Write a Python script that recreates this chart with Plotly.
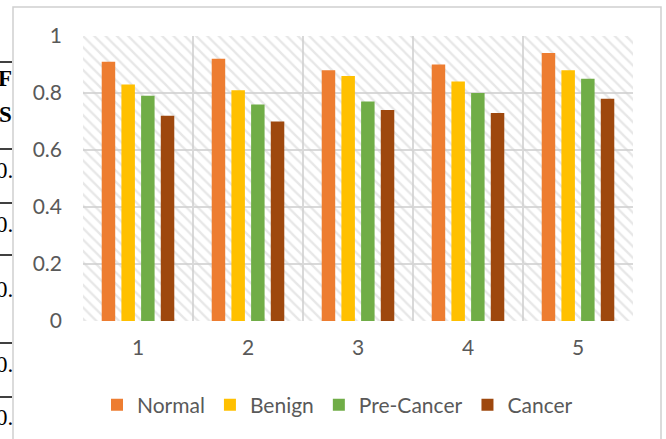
import plotly.graph_objects as go

categories = ["1", "2", "3", "4", "5"]
normal = [0.91, 0.92, 0.88, 0.90, 0.94]
benign = [0.83, 0.81, 0.86, 0.84, 0.88]
pre_cancer = [0.79, 0.76, 0.77, 0.80, 0.85]
cancer = [0.72, 0.70, 0.74, 0.73, 0.78]
series_names = ["Normal", "Benign", "Pre-Cancer", "Cancer"]
series_colors = ["#ED7D31", "#FFC000", "#70AD47", "#9E480E"]
y_ticks = [0, 0.2, 0.4, 0.6, 0.8, 1]
y_ticklabels = ["0", "0.2", "0.4", "0.6", "0.8", "1"]

# background table remnants on the left (text of the page behind the chart)
side_texts = ["F", "S", "0.", "0.", "0.", "0.", "0."]
side_bold = [True, True, False, False, False, False, False]
side_text_y = [78, 115, 170, 224, 289, 364, 417]
side_line_y = [62, 149, 203, 255, 343, 397]

W, H = 666, 439
L, R, T, B = 83, 633, 36, 321


def px(x):
    return (x - L) / (R - L)


def py(y):
    return (B - y) / (B - T)


fig = go.Figure()

# hatched plot-area background on the base axes
fig.add_trace(go.Scatter(
    x=[0, 1, 1, 0, 0], y=[0, 0, 1, 1, 0], mode="lines",
    line=dict(width=0, color="rgba(0,0,0,0)"),
    fill="toself", fillcolor="rgba(0,0,0,0)",
    fillpattern=dict(shape="\\", fgcolor="#d0d0d0", bgcolor="rgba(0,0,0,0)",
                     size=8, solidity=0.3),
    showlegend=False, hoverinfo="skip", xaxis="x", yaxis="y",
))

for name, vals, col in zip(series_names, [normal, benign, pre_cancer, cancer], series_colors):
    fig.add_trace(go.Bar(x=categories, y=vals, name=name, marker=dict(color=col, line=dict(width=0)),
                         xaxis="x2", yaxis="y2"))

font_main = "Lato, 'Open Sans', sans-serif"

fig.update_layout(
    width=W, height=H,
    margin=dict(l=L, r=W - R, t=T, b=H - B, autoexpand=False),
    paper_bgcolor="white", plot_bgcolor="white",
    barmode="group", bargap=0.284, bargroupgap=0.315,
    xaxis=dict(visible=False, range=[0, 1], fixedrange=True),
    yaxis=dict(visible=False, range=[0, 1], fixedrange=True),
    xaxis2=dict(overlaying="x", type="category", tickson="boundaries", showgrid=True,
                gridcolor="#d9d9d9", gridwidth=2, showline=False, zeroline=False,
                ticks="", tickfont=dict(family=font_main, size=21, color="#595959"),
                ticklabelstandoff=12),
    yaxis2=dict(overlaying="y", range=[0, 1], tickvals=y_ticks, ticktext=y_ticklabels,
                showgrid=True, gridcolor="#d9d9d9", gridwidth=2, zeroline=False,
                showline=False, ticks="",
                tickfont=dict(family=font_main, size=21, color="#595959"),
                ticklabelstandoff=20),
    legend=dict(orientation="h", x=px(97), xanchor="left", y=py(405), yanchor="middle",
                font=dict(family=font_main, size=21, color="#595959"),
                bgcolor="rgba(0,0,0,0)", traceorder="normal"),
    showlegend=True,
)

shapes = []
# chart frame
shapes.append(dict(type="rect", xref="paper", yref="paper", x0=px(13), x1=px(661),
                   y0=py(460), y1=py(7), line=dict(color="#d0d0d0", width=1.5),
                   fillcolor="rgba(0,0,0,0)", layer="above"))
# table rule lines
for yy in side_line_y:
    shapes.append(dict(type="line", xref="paper", yref="paper", x0=px(-2), x1=px(12),
                       y0=py(yy), y1=py(yy), line=dict(color="black", width=1.5)))
fig.update_layout(shapes=shapes)

for t, b, yy in zip(side_texts, side_bold, side_text_y):
    fig.add_annotation(text=("<b>%s</b>" % t) if b else t, xref="paper", yref="paper",
                       x=px(14 if b else 15), y=py(yy), xanchor="right", yanchor="middle",
                       showarrow=False,
                       font=dict(family="'Liberation Serif', 'DejaVu Serif', serif", size=23,
                                 color="black"))

fig.write_html("out.html", config={"displayModeBar": False},
               post_script="document.body.style.margin='0';document.body.style.overflow='hidden';")
